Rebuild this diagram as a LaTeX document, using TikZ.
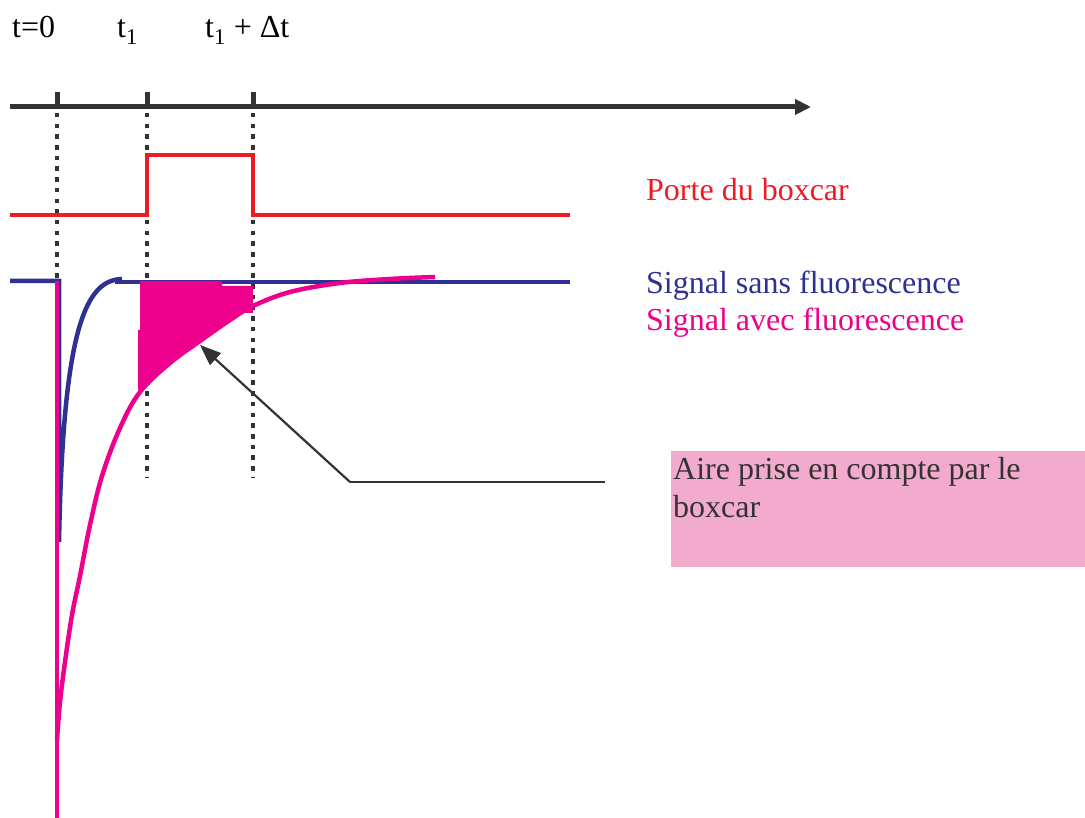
\documentclass[tikz,border=0pt]{standalone}
\usepackage{fontspec}
\setmainfont{Liberation Serif}
\usetikzlibrary{arrows.meta}
\definecolor{axisgray}{HTML}{333333}
\definecolor{gatered}{HTML}{ED1C24}
\definecolor{sigblue}{HTML}{2E3192}
\definecolor{sigpink}{HTML}{EC008C}
\definecolor{boxpink}{HTML}{F3ABCD}
\begin{document}
\begin{tikzpicture}[x=1pt,y=-1pt,
  lbl/.style={inner sep=0pt, anchor=base west, font=\fontsize{32}{38}\selectfont},
  axisline/.style={line width=5pt, draw=axisgray},
  dots/.style={line width=4.5pt, draw=axisgray, dash pattern=on 4.5pt off 6.2pt},
  gate/.style={line width=4.5pt, draw=gatered},
  sigb/.style={line width=4.5pt, draw=sigblue},
  sigp/.style={line width=4.5pt, draw=sigpink},
  pointer/.style={line width=2.2pt, draw=axisgray},
]
\useasboundingbox (0,0) rectangle (1085,818);

% time axis
\coordinate (ax0) at (10,107);
\coordinate (ax1) at (811,107);
\coordinate (k0top) at (57,92);  \coordinate (k0) at (57,107);
\coordinate (k1top) at (147,92); \coordinate (k1) at (147,107);
\coordinate (k2top) at (253,92); \coordinate (k2) at (253,107);
\coordinate (d0a) at (57,113);  \coordinate (d0b) at (57,280);
\coordinate (d1a) at (147,113); \coordinate (d1b) at (147,478);
\coordinate (d2a) at (253,113); \coordinate (d2b) at (253,478);

\draw[dots] (d0a) -- (d0b);
\draw[dots] (d1a) -- (d1b);
\draw[dots] (d2a) -- (d2b);
\draw[axisline, -{Triangle[length=16pt,width=15pt]}] (ax0) -- (ax1);
\draw[axisline] (k0top) -- (k0);
\draw[axisline] (k1top) -- (k1);
\draw[axisline] (k2top) -- (k2);

% boxcar gate
\draw[gate] (10,215) -- (147,215) -- (147,155) -- (253,155) -- (253,215) -- (570,215);

% signal without fluorescence
\draw[sigb] (10,281) -- (59,281) -- (59,542) .. controls (63,330) and (85,280) .. (122,279);
\draw[sigb] (115,282) -- (570,282);

% signal with fluorescence
\draw[sigp] (57,281) -- (57,818);
\draw[sigp] plot[smooth, tension=0.6] coordinates {(57,740) (60,702) (65,662) (72,615) (80,576) (90,525) (102,476) (120,428) (140,392) (170,363) (200,341) (230,320) (253,306) (290,292) (340,283) (390,279) (435,277)};

% boxcar area
\fill[sigpink] (140,281) -- (222,281) -- (222,286) -- (253,286) -- (253,313) -- (237,313)
  -- (222,327) -- (200,341) -- (170,363) -- (140,390) -- (138,390) -- (138,330) -- (140,330) -- cycle;

% pointer
\coordinate (tip) at (200,345);
\coordinate (elbow) at (350,482);
\coordinate (pend) at (605,482);
\draw[pointer, -{Triangle[length=21pt,width=16pt]}] (elbow) -- (tip);
\draw[pointer] (elbow) -- (pend);

% labels
\node[lbl] (t0) at (12,38) {t=0};
\node[lbl] (t1) at (117,38) {t\textsubscript{1}};
\node[lbl] (t1dt) at (205,38) {t\textsubscript{1} + Δt};
\node[lbl, text=gatered] (porte) at (646,201) {Porte du boxcar};
\node[lbl, text=sigblue] (sans) at (646,294) {Signal sans fluorescence};
\node[lbl, text=sigpink] (avec) at (646,331) {Signal avec fluorescence};

\node[fill=boxpink, minimum width=414pt, minimum height=116pt, inner sep=0pt, anchor=north west] (box) at (671,451) {};
\node[lbl, text=axisgray] (boxtxt1) at (673,479) {Aire prise en compte par le};
\node[lbl, text=axisgray] (boxtxt2) at (673,517) {boxcar};
\end{tikzpicture}
\end{document}
